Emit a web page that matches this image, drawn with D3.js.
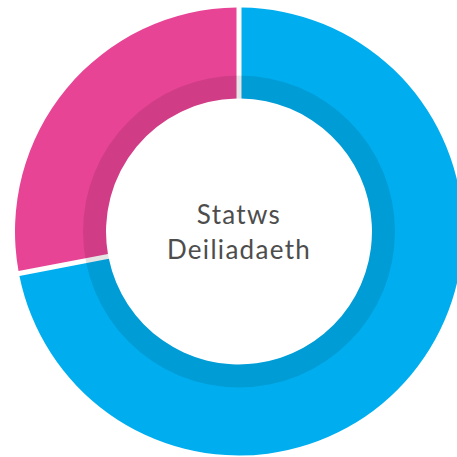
<!DOCTYPE html>
<html>
<head>
<meta charset="utf-8">
<script src="https://cdn.jsdelivr.net/npm/d3@7"></script>
<style>
  html, body { margin: 0; padding: 0; background: #fff; }
</style>
</head>
<body>
<div class="canvas"></div>
<script>
// data
const categories = ['Rhentu', 'Perchen'];
const values = [72, 28];
const colors = ['#00aeef', '#e84496'];
const titleLines = ['Statws', 'Deiliadaeth'];

const width = 457;
const height = 457;
const cx = 239;
const cy = 231.5;
const outerR = 224;
const innerR = 133;
const shadeR = 156;

const svg = d3.select('.canvas')
    .append('svg')
    .attr('width', width)
    .attr('height', height);

const graph = svg.append('g')
    .attr('transform', `translate(${cx}, ${cy})`);

const pie = d3.pie()
    .sort(null)
    .value(d => d.value);

const arc = d3.arc()
    .innerRadius(innerR)
    .outerRadius(outerR)
    .padAngle(5 / outerR)
    .padRadius(outerR);

const data = categories.map((c, i) => ({ name: c, value: values[i] }));

graph.selectAll('path.slice')
    .data(pie(data))
    .enter()
    .append('path')
    .attr('class', 'slice')
    .attr('d', arc)
    .attr('fill', (d, i) => colors[i]);

// darker inner band over the slices
graph.append('path')
    .attr('d', d3.arc()
        .innerRadius(innerR)
        .outerRadius(shadeR)
        .startAngle(0)
        .endAngle(2 * Math.PI)())
    .attr('fill', '#000')
    .attr('fill-opacity', 0.1);

// centre title
const title = graph.append('text')
    .attr('text-anchor', 'middle')
    .attr('font-family', 'Lato, "Noto Sans", sans-serif')
    .attr('font-size', 26)
    .attr('fill', '#4d4d4d')
    .attr('letter-spacing', 1.3);

title.selectAll('tspan')
    .data(titleLines)
    .enter()
    .append('tspan')
    .attr('x', 0)
    .attr('y', (d, i) => -8 + i * 35.5)
    .text(d => d);
</script>
</body>
</html>
